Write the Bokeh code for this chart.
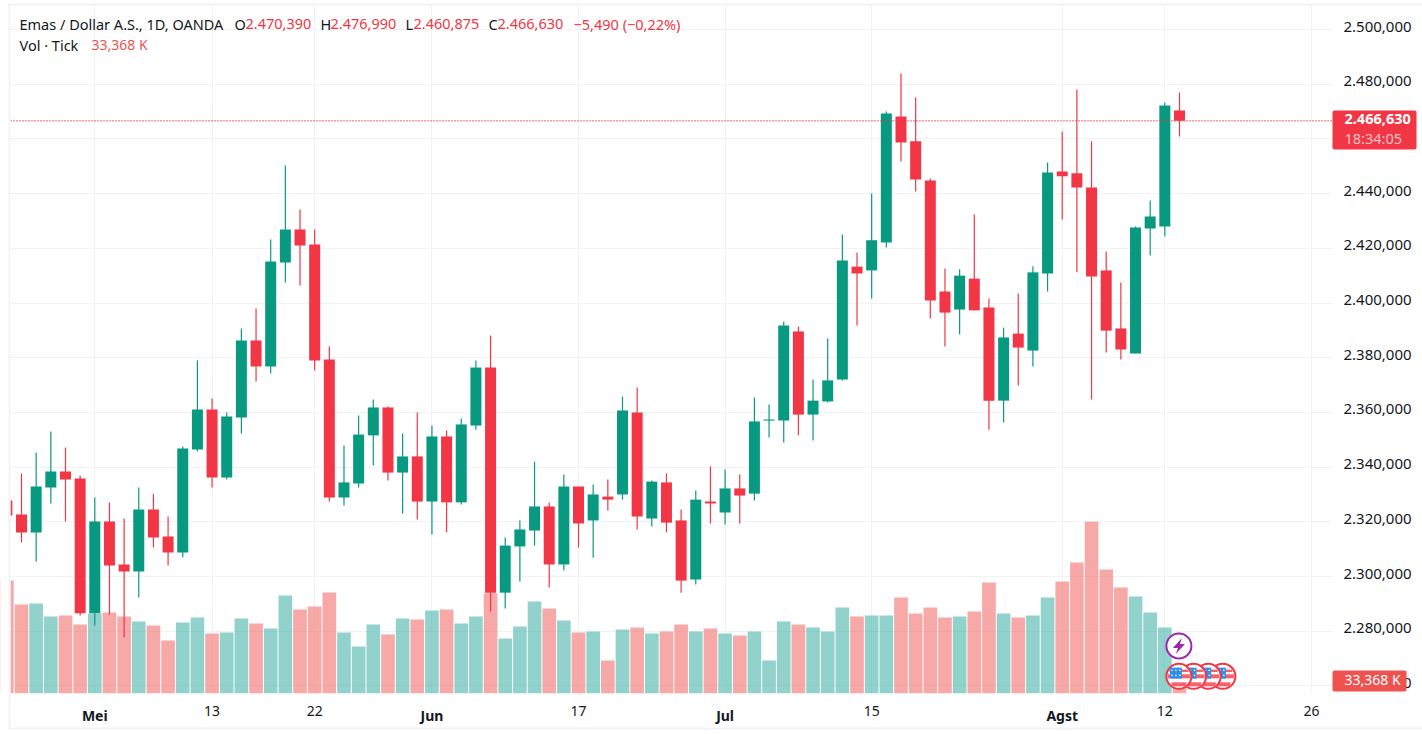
import math
from bokeh.embed import file_html
from bokeh.resources import INLINE
from bokeh.plotting import figure
from bokeh.models import (ColumnDataSource, FixedTicker, LinearAxis, Range1d,
                          Label, BoxAnnotation, Grid)

BAR = list(range(-6, 75))
OPEN = [2327.8, 2322.7, 2316.1, 2332.5, 2338.4, 2335.8, 2286.6, 2320.1, 2304.4, 2301.8,
        2324.5, 2314.6, 2308.8, 2346.4, 2361.1, 2336.2, 2358.1, 2386.3, 2376.8, 2414.8,
        2426.9, 2421.4, 2379.3, 2328.9, 2334.0, 2351.6, 2361.8, 2338.0, 2343.9, 2327.4,
        2351.2, 2327.1, 2355.2, 2376.4, 2294.1, 2311.0, 2316.8, 2325.6, 2304.4, 2332.9,
        2320.5, 2329.2, 2330.0, 2360.0, 2321.2, 2334.4, 2320.5, 2298.9, 2327.4, 2323.4,
        2332.2, 2330.3, 2357.0, 2357.0, 2389.6, 2359.2, 2364.0, 2372.0, 2413.3, 2411.9,
        2422.1, 2468.2, 2459.1, 2444.8, 2404.2, 2397.6, 2408.9, 2398.4, 2364.3, 2388.8,
        2382.6, 2410.8, 2448.1, 2447.4, 2442.2, 2411.9, 2390.7, 2381.5, 2427.2, 2428.0,
        2470.39]
HIGH = [2330.0, 2337.7, 2345.3, 2353.0, 2347.2, 2336.9, 2328.9, 2327.1, 2321.2, 2332.5,
        2330.3, 2321.9, 2347.5, 2379.0, 2365.1, 2360.0, 2390.7, 2398.0, 2423.2, 2450.3,
        2434.2, 2426.9, 2384.1, 2347.9, 2358.9, 2364.7, 2362.2, 2352.3, 2360.0, 2355.2,
        2353.4, 2357.8, 2379.0, 2388.1, 2314.3, 2320.5, 2342.0, 2327.1, 2337.3, 2332.9,
        2333.6, 2335.5, 2365.8, 2369.1, 2335.1, 2337.7, 2324.5, 2331.4, 2340.2, 2339.1,
        2337.3, 2365.4, 2362.9, 2393.2, 2391.4, 2372.0, 2387.0, 2425.05, 2418.5, 2440.0,
        2470.0, 2483.9, 2475.1, 2445.5, 2412.6, 2412.3, 2432.4, 2401.6, 2391.0, 2403.5,
        2413.4, 2451.4, 2462.7, 2478.1, 2459.1, 2418.8, 2407.5, 2428.0, 2437.5, 2473.3,
        2476.99]
LOW = [2319.0, 2312.4, 2305.5, 2326.7, 2320.1, 2285.7, 2282.1, 2286.1, 2277.7, 2292.3,
       2310.6, 2304.0, 2307.0, 2345.7, 2332.5, 2335.5, 2352.3, 2371.3, 2374.2, 2407.5,
       2406.4, 2375.3, 2327.4, 2326.0, 2332.5, 2340.6, 2335.1, 2323.0, 2320.8, 2315.4,
       2316.1, 2326.3, 2353.7, 2287.2, 2288.3, 2298.2, 2311.3, 2296.0, 2302.2, 2310.6,
       2306.9, 2324.1, 2328.1, 2317.2, 2318.3, 2316.1, 2294.1, 2297.1, 2319.4, 2319.0,
       2319.4, 2327.8, 2350.8, 2349.0, 2351.6, 2349.7, 2363.6, 2371.7, 2391.8, 2401.6,
       2420.3, 2451.7, 2440.8, 2394.3, 2384.1, 2388.5, 2397.3, 2353.7, 2356.3, 2369.8,
       2376.8, 2404.2, 2430.5, 2411.2, 2364.7, 2381.9, 2379.3, 2381.5, 2417.4, 2424.3,
       2460.875]
CLOSE = [2322.3, 2316.1, 2332.9, 2338.4, 2335.5, 2286.6, 2320.1, 2304.0, 2301.8, 2324.5,
         2314.3, 2308.8, 2346.8, 2361.1, 2336.2, 2358.5, 2386.3, 2376.8, 2415.2, 2426.9,
         2421.0, 2379.0, 2328.9, 2334.4, 2351.9, 2361.8, 2338.0, 2343.9, 2327.4, 2351.2,
         2327.1, 2355.6, 2376.4, 2294.1, 2311.3, 2317.2, 2325.6, 2304.4, 2332.9, 2319.4,
         2330.0, 2328.1, 2360.7, 2321.9, 2334.7, 2319.7, 2298.5, 2328.1, 2326.7, 2332.2,
         2329.6, 2356.7, 2357.4, 2391.8, 2359.2, 2364.3, 2371.7, 2415.5, 2410.8, 2422.9,
         2469.3, 2458.7, 2445.2, 2400.9, 2396.5, 2410.0, 2397.3, 2364.3, 2387.4, 2383.7,
         2411.2, 2447.7, 2446.3, 2442.2, 2409.7, 2389.9, 2383.0, 2427.6, 2431.6, 2472.2,
         2466.63]
VOLUME = [289.9, 228.4, 230.9, 197.6, 200.1, 177.0, 205.3, 207.8, 197.6, 184.7,
          174.5, 136.0, 182.2, 195.0, 154.0, 156.5, 192.4, 179.6, 166.8, 251.5,
          215.5, 223.2, 259.2, 156.5, 120.6, 177.0, 151.4, 192.4, 189.9, 213.0,
          215.5, 179.6, 197.6, 257.4, 141.1, 171.9, 236.1, 218.1, 187.3, 156.5,
          159.1, 84.7, 164.2, 169.3, 154.0, 159.1, 177.0, 159.1, 166.8, 154.0,
          148.8, 159.1, 84.7, 184.7, 177.0, 169.3, 159.1, 220.7, 197.6, 200.1,
          200.1, 246.3, 205.3, 220.7, 195.0, 197.6, 210.4, 284.8, 205.3, 195.0,
          200.1, 246.3, 287.4, 336.0, 441.0, 318.0, 272.0, 248.9, 207.8, 169.3,
          33.368]

PRICE_TICKS = list(range(2260, 2501, 20))
PRICE_LABELS = {v: f"2.{v - 2000:03d},000" for v in PRICE_TICKS}
MONTH_TICKS = {0: "Mei", 23: "Jun", 43: "Jul", 66: "Agst"}
DAY_TICKS = {8: "13", 15: "22", 33: "17", 53: "15", 73: "12", 83: "26"}

UP, DOWN = "#089981", "#F23645"
VOL_UP, VOL_DOWN = "#26A69A", "#EF5350"
INK = "#131722"
FONT = "Noto Sans"
GRID = "#F1F2F4"
EDGE = "#F0F3FA"

cols = [UP if c > o else DOWN for o, c in zip(OPEN, CLOSE)]
vcols = [VOL_UP if c > o else VOL_DOWN for o, c in zip(OPEN, CLOSE)]
src = ColumnDataSource(dict(
    x=BAR, o=OPEN, h=HIGH, l=LOW, c=CLOSE, v=VOLUME, col=cols, vcol=vcols,
    top=[max(a, b) for a, b in zip(OPEN, CLOSE)],
    bot=[min(a, b) for a, b in zip(OPEN, CLOSE)],
))

W, H = 1422, 734
PX_X = 14.658           # pixels per bar
PX_Y = 2.735            # pixels per price unit
PX_V = 0.3897           # pixels per volume unit
def X(px): return (px - 94.3) / PX_X
def Y(px): return 2480 - (px - 83.7) / PX_Y
def V(px): return (693 - px) / PX_V
def dx(px): return px / PX_X
def dy(px): return px / PX_Y
LEFT, RIGHT, TOP, BOTTOM = 10, 1332, 5, 693
LABEL_LIFT = 3 / PX_Y   # the axis labels sit a little above their grid lines

# The frame fills the whole canvas, so that boxes and labels beside the pane are not clipped.
p = figure(width=W, height=H, output_backend="svg", toolbar_location=None,
           x_range=Range1d(X(0), X(W)), y_range=Range1d(Y(H), Y(0)),
           x_axis_location=None, y_axis_location=None,
           min_border_left=0, min_border_right=0, min_border_top=0, min_border_bottom=0,
           background_fill_color="white", border_fill_color="white", outline_line_color=None)
p.extra_y_ranges = {"vol": Range1d(V(H), V(0)),
                    "labels": Range1d(Y(H) - LABEL_LIFT, Y(0) - LABEL_LIFT)}

# grids
p.grid.visible = False
p.add_layout(Grid(dimension=0, ticker=FixedTicker(ticks=sorted(list(MONTH_TICKS) + list(DAY_TICKS))),
                  grid_line_color=GRID, grid_line_width=1))
p.add_layout(Grid(dimension=1, ticker=FixedTicker(ticks=PRICE_TICKS),
                  grid_line_color=GRID, grid_line_width=1))

# volume, then candles
p.vbar(x="x", top="v", bottom=0, width=0.93, source=src, y_range_name="vol",
       fill_color="vcol", fill_alpha=0.5, line_color=None)
p.segment(x0="x", x1="x", y0="l", y1="h", source=src, line_color="col", line_width=1.2)
p.vbar(x="x", top="top", bottom="bot", width=0.75, source=src, fill_color="col", line_color=None)

# last-price line
p.segment(x0=[X(LEFT)], x1=[X(RIGHT)], y0=[CLOSE[-1]], y1=[CLOSE[-1]], line_color=DOWN,
          line_width=1.5, line_dash="1 2")

# event icons
FLAG_BARS = [77, 76, 75, 74]
FLAG_Y = 2263.5
BOLT_Y = 2274.6
BOLT_X = 73.96
FLAG_RED = "#F5626E"
for b in FLAG_BARS:
    xc = b - 0.04
    p.scatter([xc], [FLAG_Y], size=25, marker="circle", fill_color="white",
              line_color=DOWN, line_width=2)
    for off, h in ((-5.5, 2.5), (0, 4), (8, 4)):
        half = math.sqrt(max(11 ** 2 - off ** 2, 0))
        p.rect([xc], [FLAG_Y - dy(off)], width=[2 * half], height=[h], width_units="screen",
               height_units="screen", fill_color=FLAG_RED, line_color=None)
    p.rect([xc + dx(-3)], [FLAG_Y + dy(3.2)], width=[12], height=[11], width_units="screen",
           height_units="screen", fill_color="#2E8FE6", line_color=None)
    p.scatter([xc + dx(u) for u in (-7, -3, 1) for _ in (0, 1)],
              [FLAG_Y + dy(w) for _ in (0, 1, 2) for w in (6, 1)],
              size=1.6, marker="circle", fill_color="white", line_color=None)
p.scatter([BOLT_X], [BOLT_Y], size=25, marker="circle", fill_color="white",
          line_color="#9C27B0", line_width=2)
bolt = [(3, -8), (-6, 2), (-1, 2), (-3, 8), (6, -2), (1, -2)]
p.patch([BOLT_X + dx(a) for a, _ in bolt], [BOLT_Y - dy(b) for _, b in bolt],
        fill_color="#9C27B0", line_color=None)

# white margins round the pane hide what runs past it
p.quad(left=[X(0), X(RIGHT), X(0), X(0)], right=[X(LEFT), X(W), X(W), X(W)],
       bottom=[Y(H), Y(H), Y(TOP), Y(H)], top=[Y(0), Y(0), Y(0), Y(BOTTOM)],
       fill_color="white", line_color=None)

# axes
ax_y = LinearAxis(y_range_name="labels", ticker=FixedTicker(ticks=PRICE_TICKS),
                  major_label_overrides=PRICE_LABELS, fixed_location=X(RIGHT),
                  axis_line_color=None, major_tick_line_color=None, minor_tick_line_color=None,
                  major_tick_out=0, major_tick_in=0, minor_tick_out=0, minor_tick_in=0,
                  major_label_standoff=11, major_label_text_font=FONT,
                  major_label_text_font_size="15px", major_label_text_color=INK)
p.add_layout(ax_y, "right")
def xaxis(ticks, style):
    return LinearAxis(ticker=FixedTicker(ticks=list(ticks)), major_label_overrides=dict(ticks),
                      fixed_location=Y(BOTTOM),
                      axis_line_color=None, major_tick_line_color=None, minor_tick_line_color=None,
                      major_tick_out=0, major_tick_in=0, minor_tick_out=0, minor_tick_in=0,
                      major_label_standoff=12, major_label_text_font=FONT,
                      major_label_text_font_size="14px", major_label_text_color=INK,
                      major_label_text_font_style=style)
p.add_layout(xaxis(DAY_TICKS, "normal"), "below")
p.add_layout(xaxis(MONTH_TICKS, "bold"), "below")

# chart frame and price boxes
def box(l, r, t, b, color, radius=0):
    p.add_layout(BoxAnnotation(left=l, right=r, top=t, bottom=b, left_units="canvas",
                               right_units="canvas", top_units="canvas", bottom_units="canvas",
                               fill_color=color, fill_alpha=1, line_color=None,
                               border_radius=radius, level="annotation"))
box(8, 10, 3, 729, EDGE)
box(8, W, 3, 5, EDGE)
box(8, W, 727, 729, EDGE)
box(1332, 1416, 110, 149, DOWN, 2)
box(1332, 1406, 670, 691, VOL_DOWN, 2)

def txt(x, y, t, color=INK, style="normal", size="14.5px"):
    p.add_layout(Label(x=x, y=y, x_units="canvas", y_units="canvas", text=t, text_color=color,
                       text_font=FONT, text_font_size=size, text_font_style=style,
                       text_baseline="middle", text_align="left", level="annotation"))

txt(19, 23, "Emas / Dollar A.S., 1D, OANDA")
txt(234, 23, "O"); txt(245, 23, "2.470,390", DOWN)
txt(320, 23, "H"); txt(330, 23, "2.476,990", DOWN)
txt(405, 23, "L"); txt(413, 23, "2.460,875", DOWN)
txt(488, 23, "C"); txt(497, 23, "2.466,630", DOWN)
txt(573, 23, "\u22125,490 (\u22120,22%)", DOWN)
txt(19, 44, "Vol \u00b7 Tick")
txt(91, 44, "33,368 K", VOL_DOWN, size="14px")
txt(1344, 118.5, "2.466,630", "white", "bold", "14.5px")
txt(1344, 137, "18:34:05", "#FBC3C7", size="14.5px")
txt(1344, 679, "33,368 K", "white", size="14px")

open("out.html", "w").write(file_html(p, INLINE))
